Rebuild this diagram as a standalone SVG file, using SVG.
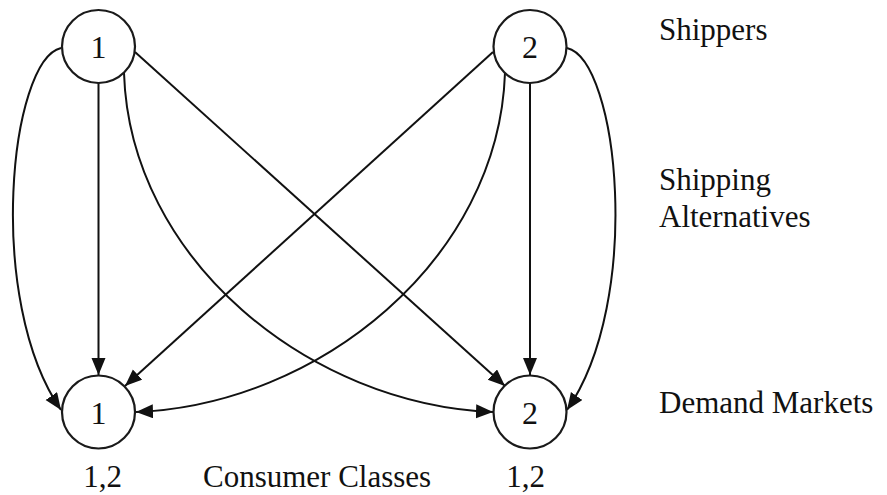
<svg xmlns="http://www.w3.org/2000/svg" width="887" height="495" viewBox="0 0 887 495">
<style>
  .node circle { fill: #ffffff; stroke: #1a1a1a; stroke-width: 2.2; }
  .node text, .label { font-family: "Liberation Serif", "Times New Roman", serif; font-size: 31px; fill: #111111; }
  .node text { text-anchor: middle; font-size: 32px; }
  .edge { fill: none; stroke: #111111; stroke-width: 2; marker-end: url(#arrow); }
</style>
<defs>
  <marker id="arrow" markerUnits="userSpaceOnUse" markerWidth="20" markerHeight="16" refX="17" refY="7" orient="auto">
    <path d="M0,0 L17,7 L0,14 Z" fill="#111111"/>
  </marker>
</defs>
<rect width="887" height="495" fill="#ffffff"/>
<g id="connectors">
  <path class="edge" d="M61,48 C10,60 -15,300 61,410"/>
  <path class="edge" d="M98.5,83 L98.5,375"/>
  <path class="edge" d="M124,73 C130,260 310,405 493,412"/>
  <path class="edge" d="M135,52 L505,386"/>
  <path class="edge" d="M493,52 L125,386"/>
  <path class="edge" d="M505,73 C498.5,260 318.5,405 136,412"/>
  <path class="edge" d="M530,83 L530,375"/>
  <path class="edge" d="M567,48 C618.5,60 643.5,300 567,410"/>
</g>
<g id="shipper1" class="node"><circle cx="98.5" cy="46.5" r="36.5"/><text x="98.5" y="58">1</text></g>
<g id="shipper2" class="node"><circle cx="530" cy="46.5" r="36.5"/><text x="530" y="58">2</text></g>
<g id="market1" class="node"><circle cx="98.5" cy="412" r="36.5"/><text x="98.5" y="423.5">1</text></g>
<g id="market2" class="node"><circle cx="530" cy="412" r="36.5"/><text x="530" y="423.5">2</text></g>
<g id="labels">
  <text class="label" x="659" y="40">Shippers</text>
  <text class="label" x="659" y="190">Shipping</text>
  <text class="label" x="659" y="227">Alternatives</text>
  <text class="label" x="659" y="413">Demand Markets</text>
  <text class="label" x="102.5" y="487" text-anchor="middle">1,2</text>
  <text class="label" x="203" y="487">Consumer Classes</text>
  <text class="label" x="525.5" y="487" text-anchor="middle">1,2</text>
</g>
</svg>
